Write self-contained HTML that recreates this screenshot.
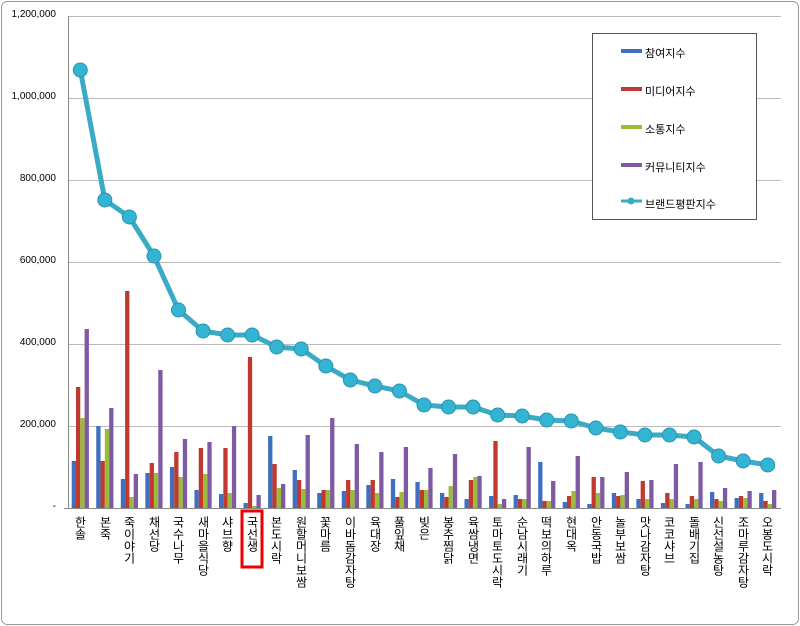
<!DOCTYPE html>
<html><head><meta charset="utf-8"><style>
body{margin:0;background:#fff;}
#w{position:relative;width:800px;height:626px;overflow:hidden;font-family:"Liberation Sans","Noto Sans CJK KR",sans-serif;}
.yl{position:absolute;right:744px;font-size:10px;color:#000;text-align:right;}
.xl{position:absolute;top:516px;width:14px;font-size:12px;line-height:14px;writing-mode:vertical-rl;text-orientation:upright;color:#000;font-family:"Liberation Sans","Noto Sans CJK KR",sans-serif;}
.lg{position:absolute;left:645px;font-size:11px;color:#000;}
</style></head><body><div id="w">
<svg id="s" width="800" height="626" style="position:absolute;left:0;top:0">
<rect x="1.5" y="1.5" width="797" height="623" rx="6" fill="#fff" stroke="#999" stroke-width="1"/>
<g stroke="#bbb" stroke-width="1">
<line x1="68" y1="16.5" x2="781" y2="16.5"/><line x1="68" y1="98.5" x2="781" y2="98.5"/>
<line x1="68" y1="180.5" x2="781" y2="180.5"/><line x1="68" y1="262.5" x2="781" y2="262.5"/>
<line x1="68" y1="344.5" x2="781" y2="344.5"/><line x1="68" y1="426.5" x2="781" y2="426.5"/>
</g>
<line x1="68.5" y1="16" x2="68.5" y2="509" stroke="#888"/>
<line x1="64" y1="508.5" x2="781" y2="508.5" stroke="#888"/>
<g id="bars"></g>
<g id="line"></g>
<rect x="592.5" y="33.5" width="164" height="186" fill="#fff" stroke="#555"/>
<rect x="621" y="49" width="21" height="4" fill="#3F6FBF"/>
<rect x="621" y="87" width="21" height="4" fill="#C0392F"/>
<rect x="621" y="125" width="21" height="4" fill="#9BBB3A"/>
<rect x="621" y="163" width="21" height="4" fill="#7E5AA3"/>
<line x1="621" y1="201" x2="642" y2="201" stroke="#3AABC6" stroke-width="3"/>
<circle cx="631" cy="201" r="3.5" fill="#3AABC6"/>
<rect x="242" y="511" width="20" height="56" fill="none" stroke="#e00" stroke-width="3"/>
</svg>
<div class="yl" style="top:9px">1,200,000</div>
<div class="yl" style="top:91px">1,000,000</div>
<div class="yl" style="top:173px">800,000</div>
<div class="yl" style="top:255px">600,000</div>
<div class="yl" style="top:337px">400,000</div>
<div class="yl" style="top:419px">200,000</div>
<div class="yl" style="top:501px">-</div>
<div class="lg" style="top:45px">참여지수</div>
<div class="lg" style="top:83px">미디어지수</div>
<div class="lg" style="top:121px">소통지수</div>
<div class="lg" style="top:159px">커뮤니티지수</div>
<div class="lg" style="top:196px">브랜드평판지수</div>
<div id="xls">
<div class="xl" style="left:73px">한솔</div>
<div class="xl" style="left:98px">본죽</div>
<div class="xl" style="left:122px">죽이야기</div>
<div class="xl" style="left:147px">채선당</div>
<div class="xl" style="left:171px">국수나무</div>
<div class="xl" style="left:196px">새마을식당</div>
<div class="xl" style="left:220px">샤브향</div>
<div class="xl" style="left:245px">국선생</div>
<div class="xl" style="left:269px">본도시락</div>
<div class="xl" style="left:294px">원할머니보쌈</div>
<div class="xl" style="left:318px">꽃마름</div>
<div class="xl" style="left:343px">이바돔감자탕</div>
<div class="xl" style="left:368px">육대장</div>
<div class="xl" style="left:392px">풀잎채</div>
<div class="xl" style="left:417px">빚은</div>
<div class="xl" style="left:441px">봉추찜닭</div>
<div class="xl" style="left:466px">육쌈냉면</div>
<div class="xl" style="left:490px">토마토도시락</div>
<div class="xl" style="left:515px">순남시래기</div>
<div class="xl" style="left:539px">떡보의하루</div>
<div class="xl" style="left:564px">현대옥</div>
<div class="xl" style="left:589px">안동국밥</div>
<div class="xl" style="left:613px">놀부보쌈</div>
<div class="xl" style="left:638px">맛나감자탕</div>
<div class="xl" style="left:662px">코코샤브</div>
<div class="xl" style="left:687px">돌배기집</div>
<div class="xl" style="left:711px">신선설농탕</div>
<div class="xl" style="left:736px">조마루감자탕</div>
<div class="xl" style="left:760px">오봉도시락</div>
</div>
</div>
<script>
var B=[[461,387,418,329],[426,461,429,408],[479,291,497,474],[473,463,473,370],[467,452,477,439],[490,448,474,442],[494,448,493,426],[503,357,506,495],[436,464,488,484],[470,480,489,435],[493,490,490,418],[491,480,490,444],[485,480,493,452],[479,497,492,447],[482,490,490,468],[493,497,486,454],[499,480,477,476],[496,441,504,499],[495,499,499,447],[462,501,501,481],[502,496,491,456],[504,477,493,477],[493,496,495,472],[499,481,499,480],[503,493,499,464],[504,496,499,462],[492,499,501,488],[498,496,498,491],[493,501,504,490]];
var D=[70,200,217,256,310,331,335,335,347,349,366,380,386,391,405,407,407,415,416,420,421,428,432,435,435,437,456,461,465];
var C=["#3F6FBF","#C0392F","#9BBB3A","#7E5AA3"];
var ns="http://www.w3.org/2000/svg",bg=document.getElementById("bars"),lg=document.getElementById("line");
var pts=[];
for(var i=0;i<29;i++){var cx=80.3+24.55*i;
for(var k=0;k<4;k++){var r=document.createElementNS(ns,"rect");r.setAttribute("x",cx-8.6+4.3*k);r.setAttribute("y",B[i][k]);r.setAttribute("width",4.3);r.setAttribute("height",508-B[i][k]);r.setAttribute("fill",C[k]);bg.appendChild(r);}
pts.push(cx+","+D[i]);}
var pl=document.createElementNS(ns,"polyline");pl.setAttribute("points",pts.join(" "));pl.setAttribute("fill","none");pl.setAttribute("stroke","#3AABC6");pl.setAttribute("stroke-width","5");pl.setAttribute("stroke-linejoin","round");lg.appendChild(pl);
for(var i=0;i<29;i++){var c=document.createElementNS(ns,"circle");c.setAttribute("cx",80.3+24.55*i);c.setAttribute("cy",D[i]);c.setAttribute("r",7);c.setAttribute("fill","#33B4D2");c.setAttribute("stroke","#2A93AE");c.setAttribute("stroke-width","1");lg.appendChild(c);}
</script>
</body></html>
